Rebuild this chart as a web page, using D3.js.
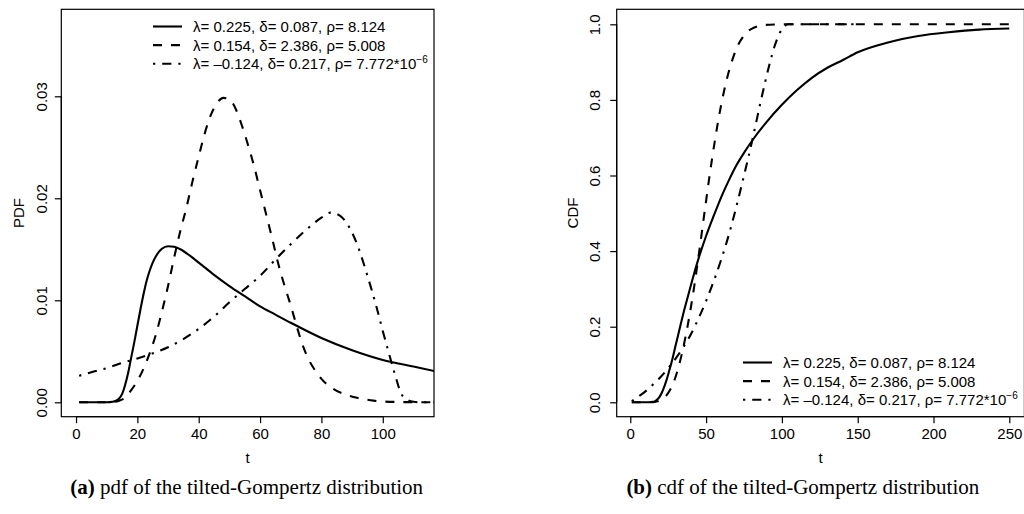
<!DOCTYPE html>
<html lang="en">
<head>
<meta charset="UTF-8">
<title>tilted-Gompertz pdf and cdf</title>
<script src="https://cdn.jsdelivr.net/npm/d3@7"></script>
<style>
  body { margin: 0; background: #fff; }
  svg { display: block; }
  .lab { font-family: "Liberation Sans", Arial, sans-serif; font-size: 15px; fill: #000; }
  .leg { font-family: "Liberation Sans", Arial, sans-serif; font-size: 15px; fill: #000; }
  .cap { font-family: "Liberation Serif", "Times New Roman", serif; font-size: 21px; fill: #000; }
</style>
</head>
<body>
<svg width="1024" height="514"></svg>
<script>
// ---- data ----
// (a) pdf
const pdfT_A = [1,5,10,12,13,14,15,16,17,18,19,20,21,22,23,24,25,26,27,28,30,32,34,37,40,45,50,55,60,65,70,80,90,100,110,117];
const pdf_A  = [0,0,0,0.00005,0.00015,0.00035,0.0008,0.0017,0.0029,0.0044,0.0059,0.0075,0.0091,0.0106,0.0119,0.0129,0.0137,0.0143,0.01475,0.01505,0.0153,0.01525,0.0150,0.0144,0.0137,0.0125,0.0114,0.0104,0.0094,0.0086,0.0078,0.0063,0.0051,0.00415,0.0035,0.00305];

const pdfT_B = [1,10,12,14,16,18,20,22,24,26,28,30,32,34,36,38,40,42,44,46,48,50,52,54,56,58,60,62,64,66,68,70,72,74,76,78,80,84,88,92,96,100,105,110,117];
const pdf_B  = [0,0,0.00002,0.00015,0.00045,0.0012,0.0021,0.0033,0.0048,0.0066,0.0089,0.0114,0.0142,0.0168,0.0191,0.0217,0.0241,0.0264,0.0282,0.02935,0.02985,0.0297,0.0288,0.0272,0.0253,0.0232,0.0208,0.0184,0.0160,0.0135,0.0114,0.0095,0.0074,0.0055,0.0041,0.0031,0.0023,0.0013,0.00075,0.00042,0.0002,0.00008,0.00003,0.00001,0];

const pdfT_C = [1,5,10,15,20,25,30,35,40,45,50,55,60,65,70,75,80,83,86,89,92,95,98,100,102,104,106,108,110,112,117];
const pdf_C  = [0.0026,0.00295,0.00335,0.00385,0.0043,0.0048,0.0054,0.0062,0.0072,0.0084,0.0098,0.0111,0.0124,0.0140,0.0155,0.0169,0.0181,0.0186,0.0183,0.0172,0.0152,0.0124,0.0093,0.0070,0.0048,0.0027,0.00085,0.00025,0.00005,0,0];

// (b) cdf
const cdfT_A = [1,10,14,16,18,20,22,24,26,28,30,32,35,38,41,45,50,55,60,65,70,75,80,90,100,110,120,130,140,150,170,190,210,230,250];
const cdf_A  = [0,0,0.001,0.002,0.008,0.019,0.037,0.06,0.088,0.118,0.152,0.185,0.235,0.28,0.325,0.38,0.44,0.493,0.543,0.587,0.627,0.66,0.69,0.742,0.787,0.826,0.859,0.885,0.905,0.926,0.952,0.969,0.979,0.986,0.989];

const cdfT_B = [1,10,14,16,18,20,22,24,26,28,30,32,34,36,38,40,42,44,46,48,50,52,54,56,58,60,62,64,66,68,70,72,74,76,78,80,84,88,92,100,150,200,250];
const cdf_B  = [0,0,0.0002,0.001,0.0025,0.006,0.011,0.019,0.031,0.047,0.069,0.096,0.128,0.165,0.206,0.252,0.302,0.357,0.414,0.474,0.533,0.591,0.646,0.697,0.745,0.788,0.826,0.86,0.889,0.914,0.935,0.952,0.965,0.975,0.983,0.988,0.995,0.998,0.999,1,1,1,1];

const cdfT_C = [1,5,10,15,20,25,30,35,40,45,50,55,60,65,70,75,80,83,86,89,92,95,98,100,102,104,110,150];
const cdf_C  = [0.003,0.014,0.029,0.047,0.067,0.09,0.116,0.146,0.18,0.222,0.268,0.32,0.378,0.443,0.518,0.6,0.685,0.74,0.795,0.848,0.897,0.94,0.972,0.987,0.996,1,1,1];

const pdfTicksX = [0,20,40,60,80,100];
const pdfTicksY = [0,0.01,0.02,0.03];
const cdfTicksX = [0,50,100,150,200,250];
const cdfTicksY = [0,0.2,0.4,0.6,0.8,1.0];

const legendText = ["λ= 0.225, δ= 0.087, ρ= 8.124", "λ= 0.154, δ= 2.386, ρ= 5.008", "λ= –0.124, δ= 0.217, ρ= 7.772*10"];
const legendSup = ["", "", "−6"];
const dashes = [null, "9,9", "2.3,6.9,9.2,6.9"];

const svg = d3.select("svg");

function drawPanel(p) {
  const x = d3.scaleLinear().domain(p.xDom).range([p.left, p.right]);
  const y = d3.scaleLinear().domain(p.yDom).range([p.bottom, p.top]);
  const g = svg.append("g");

  g.append("clipPath").attr("id", p.id + "clip")
    .append("rect").attr("x", p.left).attr("y", p.top)
    .attr("width", p.right - p.left).attr("height", p.bottom - p.top);

  const line = d3.line().x(d => x(d[0])).y(d => y(d[1])).curve(d3.curveMonotoneX);
  p.series.forEach((s, i) => {
    g.append("path")
      .datum(d3.zip(s[0], s[1]))
      .attr("d", line)
      .attr("clip-path", "url(#" + p.id + "clip)")
      .attr("fill", "none").attr("stroke", "#000")
      .attr("stroke-width", 2.1)
      .attr("stroke-dasharray", dashes[i]);
  });

  // box
  g.append("rect").attr("x", p.left).attr("y", p.top)
    .attr("width", p.right - p.left).attr("height", p.bottom - p.top)
    .attr("fill", "none").attr("stroke", "#000").attr("stroke-width", 1.2);

  // x axis
  const xa = g.append("g").attr("transform", `translate(0,${p.bottom})`)
    .call(d3.axisBottom(x).tickValues(p.xTicks).tickSize(6.5).tickSizeOuter(0).tickPadding(4).tickFormat(d3.format("d")));
  xa.select(".domain").attr("d", `M${x(p.xTicks[0])},0H${x(p.xTicks[p.xTicks.length - 1])}`).attr("stroke-width", 1.2);
  xa.selectAll(".tick line").attr("stroke-width", 1.2);
  xa.attr("font-size", null).attr("font-family", null);
  xa.selectAll(".tick text").attr("class", "lab").attr("dy", null).attr("y", 22);

  // y axis, labels rotated as in R
  const ya = g.append("g").attr("transform", `translate(${p.left},0)`)
    .call(d3.axisLeft(y).tickValues(p.yTicks).tickSize(6.5).tickSizeOuter(0).tickFormat(p.yFmt));
  ya.select(".domain").attr("d", `M0,${y(p.yTicks[0])}V${y(p.yTicks[p.yTicks.length - 1])}`).attr("stroke-width", 1.2);
  ya.selectAll(".tick line").attr("stroke-width", 1.2);
  ya.attr("font-size", null).attr("font-family", null);
  ya.selectAll(".tick text")
    .attr("class", "lab").attr("x", null).attr("dy", null)
    .attr("text-anchor", "middle")
    .attr("transform", `translate(${p.yLabX - p.left},0) rotate(-90)`);

  g.append("text").attr("class", "lab").attr("text-anchor", "middle")
    .attr("x", (p.left + p.right) / 2).attr("y", 463).text("t");
  g.append("text").attr("class", "lab").attr("text-anchor", "middle")
    .attr("transform", `translate(${p.yTitleX},${(p.top + p.bottom) / 2}) rotate(-90)`).text(p.yTitle);

  // legend
  legendText.forEach((t, i) => {
    const ly = p.legY + i * 18.6;
    g.append("line").attr("x1", p.legX).attr("x2", p.legX + 29)
      .attr("y1", ly).attr("y2", ly)
      .attr("stroke", "#000").attr("stroke-width", 2.1).attr("stroke-dasharray", dashes[i]);
    const tx = g.append("text").attr("class", "leg").attr("x", p.legX + 40).attr("y", ly + 5.5).text(t);
    if (legendSup[i]) tx.append("tspan").attr("dy", -6.5).attr("font-size", "10px").text(legendSup[i]);
  });

  // caption
  const cap = g.append("text").attr("class", "cap").attr("text-anchor", "middle")
    .attr("x", p.capX).attr("y", 494);
  cap.append("tspan").attr("font-weight", "bold").text(p.capTag);
  cap.append("tspan").text(" " + p.capText);
}

drawPanel({
  id: "pdf", left: 61.3, right: 434, top: 9.3, bottom: 416.7,
  xDom: [-4.8, 116.7], yDom: [-0.001412, 0.038529],
  xTicks: pdfTicksX, yTicks: pdfTicksY, yFmt: d3.format(".2f"),
  series: [[pdfT_A, pdf_A], [pdfT_B, pdf_B], [pdfT_C, pdf_C]],
  yLabX: 47, yTitleX: 23.5, yTitle: "PDF",
  legX: 153, legY: 26.5,
  capX: 246.7, capTag: "(a)", capText: "pdf of the tilted-Gompertz distribution"
});

drawPanel({
  id: "cdf", left: 616.7, right: 1024.4, top: 9.3, bottom: 416.7,
  xDom: [-8.96, 259.96], yDom: [-0.0381, 1.0397],
  xTicks: cdfTicksX, yTicks: cdfTicksY, yFmt: d3.format(".1f"),
  series: [[cdfT_A, cdf_A], [cdfT_B, cdf_B], [cdfT_C, cdf_C]],
  yLabX: 600, yTitleX: 577.5, yTitle: "CDF",
  legX: 743, legY: 362.5,
  capX: 802.8, capTag: "(b)", capText: "cdf of the tilted-Gompertz distribution"
});
</script>
</body>
</html>
